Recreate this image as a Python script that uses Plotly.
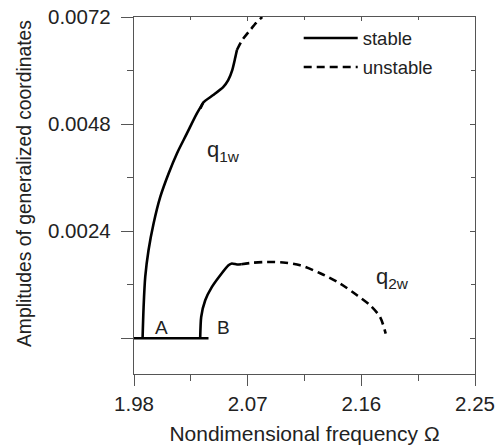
import plotly.graph_objects as go

# q1w stable branch (from point A), lower part up to the small fold
q1_stable_lo_x = [1.9868, 1.9876, 1.9889, 1.9915, 1.9955, 2.0008, 2.0074, 2.0140, 2.0219, 2.0298, 2.0344]
q1_stable_lo_y = [0.0, 0.000702, 0.001375, 0.001974, 0.002573, 0.003169, 0.003694, 0.004143, 0.004592, 0.005040, 0.005260]
# q1w stable branch, upper part after the fold
q1_stable_hi_x = [2.0326, 2.0348, 2.0427, 2.0506, 2.0546, 2.0578, 2.0601, 2.0615]
q1_stable_hi_y = [0.005150, 0.005282, 0.005450, 0.005630, 0.005787, 0.006011, 0.006280, 0.006460]
# q1w unstable branch
q1_unstable_x = [2.0615, 2.0657, 2.0720, 2.0767, 2.0815]
q1_unstable_y = [0.006460, 0.006684, 0.006908, 0.007066, 0.007200]

# q2w stable branch (from point B)
q2_stable_x = [2.0324, 2.0332, 2.0364, 2.0417, 2.0483, 2.0548, 2.0575, 2.0615, 2.0649]
q2_stable_y = [0.0, 0.000478, 0.000852, 0.001151, 0.001413, 0.001637, 0.001676, 0.001655, 0.001660]
# q2w unstable branch
q2_unstable_x = [2.0649, 2.0744, 2.0854, 2.0981, 2.1116, 2.1274, 2.1432, 2.1566, 2.1669, 2.1748, 2.1793]
q2_unstable_y = [0.001660, 0.001694, 0.001711, 0.001698, 0.001637, 0.001458, 0.001227, 0.000964, 0.000740, 0.000478, 0.000105]

# trivial solution
trivial_x = [1.98, 2.039]
trivial_y = [0.0, 0.0]

x_ticks = [1.98, 2.07, 2.16, 2.25]
y_ticks = [0.0, 0.0024, 0.0048, 0.0072]
y_ticklabels = ["", "0.0024", "0.0048", "0.0072"]

FONT = "Liberation Sans, Arial, sans-serif"
TXT = "#222222"
LW = 2.6
DASH = "8px,5px"

fig = go.Figure()
solid = dict(color="black", width=LW, dash="solid")
dashed = dict(color="black", width=LW, dash=DASH)

fig.add_trace(go.Scatter(x=trivial_x, y=trivial_y, mode="lines", line=solid, showlegend=False))
fig.add_trace(go.Scatter(x=q1_stable_lo_x, y=q1_stable_lo_y, mode="lines", line=dict(solid, shape="spline", smoothing=0.8),
                         name="stable", legendgroup="s", showlegend=True))
fig.add_trace(go.Scatter(x=q1_stable_hi_x, y=q1_stable_hi_y, mode="lines", line=dict(solid, shape="spline", smoothing=0.6),
                         legendgroup="s", showlegend=False))
fig.add_trace(go.Scatter(x=q1_unstable_x, y=q1_unstable_y, mode="lines", line=dict(dashed, shape="spline", smoothing=0.6),
                         name="unstable", legendgroup="u", showlegend=True))
fig.add_trace(go.Scatter(x=q2_stable_x, y=q2_stable_y, mode="lines", line=dict(solid, shape="spline", smoothing=0.6),
                         legendgroup="s", showlegend=False))
fig.add_trace(go.Scatter(x=q2_unstable_x, y=q2_unstable_y, mode="lines", line=dict(dashed, shape="spline", smoothing=0.8),
                         legendgroup="u", showlegend=False))
# invisible trace to anchor mirror axes
fig.add_trace(go.Scatter(x=[1.98], y=[0.0], xaxis="x2", yaxis="y2", mode="markers",
                         marker=dict(opacity=0), showlegend=False, hoverinfo="skip"))

axis_color = "#555555"
AW = 1.4
fig.update_layout(
    width=495, height=448,
    margin=dict(l=134, r=20, t=17, b=74),
    paper_bgcolor="white", plot_bgcolor="white",
    font=dict(family=FONT, size=16, color=TXT),
    xaxis=dict(range=[1.98, 2.25], tickvals=x_ticks, ticktext=[f"{v:.2f}" for v in x_ticks], automargin=False,
               showgrid=False, zeroline=False, showline=True, linecolor=axis_color, linewidth=AW,
               ticks="outside", ticklen=11, tickcolor=axis_color, tickwidth=AW,
               tickfont=dict(size=20.5, family=FONT, color=TXT),
               minor=dict(dtick=0.045, tick0=1.98, ticks="outside", ticklen=6, tickcolor=axis_color, tickwidth=AW, showgrid=False),
               title=dict(text="Nondimensional frequency Ω", font=dict(size=21, family=FONT, color=TXT), standoff=12)),
    yaxis=dict(range=[-0.0008, 0.0072], tickvals=y_ticks, ticktext=y_ticklabels, automargin=False,
               showgrid=False, zeroline=False, showline=True, linecolor=axis_color, linewidth=AW,
               ticks="outside", ticklen=12, tickcolor=axis_color, tickwidth=AW, ticklabelstandoff=6,
               tickfont=dict(size=20.5, family=FONT, color=TXT),
               minor=dict(dtick=0.0012, tick0=0.0, ticks="outside", ticklen=6, tickcolor=axis_color, tickwidth=AW, showgrid=False)),
    xaxis2=dict(range=[1.98, 2.25], overlaying="x", side="top", anchor="y", tickvals=x_ticks, automargin=False,
                showticklabels=False, showgrid=False, zeroline=False, showline=True, linecolor=axis_color, linewidth=AW,
                ticks="inside", ticklen=4, tickcolor=axis_color, tickwidth=AW,
                minor=dict(dtick=0.045, tick0=1.98, ticks="inside", ticklen=3, tickcolor=axis_color, showgrid=False)),
    yaxis2=dict(range=[-0.0008, 0.0072], overlaying="y", side="right", anchor="x", tickvals=y_ticks, automargin=False,
                showticklabels=False, showgrid=False, zeroline=False, showline=True, linecolor=axis_color, linewidth=AW,
                ticks="inside", ticklen=5, tickcolor=axis_color, tickwidth=AW,
                minor=dict(dtick=0.0012, tick0=0.0, ticks="inside", ticklen=4, tickcolor=axis_color, showgrid=False)),
    legend=dict(x=0.483, y=0.993, xanchor="left", yanchor="top", bgcolor="rgba(0,0,0,0)",
                font=dict(size=18.5, family=FONT, color=TXT), itemwidth=54, tracegroupgap=2),
    showlegend=True,
)

# y-axis title drawn as a rotated annotation to match the reference placement
fig.add_annotation(xref="paper", yref="paper", x=-0.3226, y=0.535, text="Amplitudes of generalized coordinates",
                   textangle=-90, showarrow=False, xanchor="center", yanchor="middle",
                   font=dict(size=19.3, family=FONT, color=TXT))

fig.add_annotation(x=2.0021, y=0.000253, text="A", showarrow=False, font=dict(size=19, family=FONT, color=TXT))
fig.add_annotation(x=2.0509, y=0.000253, text="B", showarrow=False, font=dict(size=19, family=FONT, color=TXT))
fig.add_annotation(x=2.0505, y=0.00420, text="q<sub>1w</sub>", showarrow=False, xanchor="center",
                   font=dict(size=22, family=FONT, color=TXT))
fig.add_annotation(x=2.1850, y=0.00136, text="q<sub>2w</sub>", showarrow=False, xanchor="center",
                   font=dict(size=22, family=FONT, color=TXT))

fig.write_html("out.html", config={"displayModeBar": False},
               post_script="document.body.style.margin='0';document.body.style.padding='0';")
